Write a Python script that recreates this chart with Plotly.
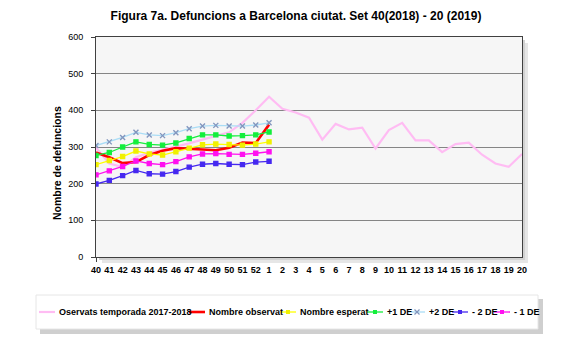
import plotly.graph_objects as go

# ---------------- data ----------------
weeks = ["40", "41", "42", "43", "44", "45", "46", "47", "48", "49", "50", "51", "52",
         "1", "2", "3", "4", "5", "6", "7", "8", "9", "10", "11", "12", "13", "14",
         "15", "16", "17", "18", "19", "20"]
weeks_current = weeks[:14]

temporada_2017_2018 = [298, 255, 245, 272, 284, 292, 300, 310, 320, 330, 340, 366, 400,
                       437, 404, 394, 380, 320, 363, 348, 353, 296, 346, 366, 318, 318,
                       286, 308, 312, 279, 255, 246, 281]
nombre_observat = [285, 272, 256, 259, 278, 290, 297, 296, 293, 291, 298, 312, 311, 361]
nombre_esperat = [252, 263, 274, 289, 281, 278, 287, 297, 306, 308, 307, 305, 308, 314]
plus_1_de = [277, 285, 300, 314, 307, 305, 311, 323, 333, 333, 330, 331, 333, 341]
plus_2_de = [304, 314, 326, 340, 333, 331, 339, 350, 357, 359, 357, 357, 360, 366]
minus_2_de = [199, 209, 222, 236, 227, 226, 233, 245, 253, 255, 253, 252, 259, 261]
minus_1_de = [224, 235, 247, 262, 255, 252, 260, 273, 281, 282, 280, 280, 283, 287]

series_names = ["Oservats temporada 2017-2018", "Nombre observat", "Nombre esperat",
                "+1 DE", "+2 DE", "- 2 DE", "- 1 DE"]
y_ticks = [0, 100, 200, 300, 400, 500, 600]

# ---------------- styles ----------------
FONT = "Arial, Liberation Sans, sans-serif"
styles = [
    dict(color="#FFBCF3", width=2.2, marker=None, mcolor=None, msize=0),
    dict(color="#FF0000", width=2.6, marker=None, mcolor=None, msize=0),
    dict(color="#FFFF00", width=1.3, marker="square", mcolor="#F0F000", msize=4),
    dict(color="#14EE3C", width=1.3, marker="square", mcolor="#14EE3C", msize=4),
    dict(color="#AADDF6", width=1.3, marker="x-thin-open", mcolor="#8296BE", msize=5),
    dict(color="#4628F0", width=1.3, marker="square", mcolor="#4628F0", msize=4),
    dict(color="#FF10F0", width=1.3, marker="square", mcolor="#FF10F0", msize=4),
]
series_values = [temporada_2017_2018, nombre_observat, nombre_esperat,
                 plus_1_de, plus_2_de, minus_2_de, minus_1_de]
series_x = [weeks] + [weeks_current] * 6

fig = go.Figure()
for name, xs, ys, st in zip(series_names, series_x, series_values, styles):
    mode = "lines" if st["marker"] is None else "lines+markers"
    kw = dict(x=xs, y=ys, name=name, mode=mode, showlegend=False,
              line=dict(color=st["color"], width=st["width"]))
    if st["marker"] is not None:
        kw["marker"] = dict(symbol=st["marker"], size=st["msize"], color=st["mcolor"],
                            line=dict(color=st["mcolor"], width=1.4))
    fig.add_trace(go.Scatter(**kw))

# ---------------- layout geometry (pixels) ----------------
W, H = 570, 340
ML, MR, MT, MB = 96, 48, 37, 83
PW, PH = W - ML - MR, H - MT - MB


def px(x):
    return (x - ML) / PW


def py(y):
    return (H - MB - y) / PH


shapes = []
annotations = []

# plot-area shadow (strips to the right and below)
for off, col in [(6, "#E6E6E6"), (3, "#D2D2D2")]:
    shapes.append(dict(type="rect", xref="paper", yref="paper",
                       x0=px(ML + PW + 1), x1=px(ML + PW + off), y0=py(MT + PH + off), y1=py(MT + off),
                       fillcolor=col, line=dict(width=0)))
    shapes.append(dict(type="rect", xref="paper", yref="paper",
                       x0=px(ML + off), x1=px(ML + PW + off), y0=py(MT + PH + off), y1=py(MT + PH + 1),
                       fillcolor=col, line=dict(width=0)))

# legend box with shadow
LX0, LX1, LY0, LY1 = 36, 538, 295, 329
shapes.append(dict(type="rect", xref="paper", yref="paper",
                   x0=px(LX0 + 4), x1=px(LX1 + 5), y0=py(LY1 + 5), y1=py(LY0 + 4),
                   fillcolor="#CFCFCF", line=dict(width=0)))
shapes.append(dict(type="rect", xref="paper", yref="paper",
                   x0=px(LX0), x1=px(LX1), y0=py(LY1), y1=py(LY0),
                   fillcolor="#FFFFFF", line=dict(color="#E6E6E6", width=1)))

text_starts = [57, 207, 298, 385, 427, 470, 512]
LEG_Y = 312
for name, st, ts in zip(series_names, styles, text_starts):
    s0, s1 = ts - 18, ts - 2
    shapes.append(dict(type="line", xref="paper", yref="paper",
                       x0=px(s0), x1=px(s1), y0=py(LEG_Y), y1=py(LEG_Y),
                       line=dict(color=st["color"], width=st["width"])))
    cx = (s0 + s1) / 2
    if st["marker"] == "square":
        h = 2
        shapes.append(dict(type="rect", xref="paper", yref="paper",
                           x0=px(cx - h), x1=px(cx + h), y0=py(LEG_Y + h), y1=py(LEG_Y - h),
                           fillcolor=st["mcolor"], line=dict(width=0)))
    elif st["marker"] == "x-thin-open":
        h = 2.5
        for dx0, dy0, dx1, dy1 in [(-h, -h, h, h), (-h, h, h, -h)]:
            shapes.append(dict(type="line", xref="paper", yref="paper",
                               x0=px(cx + dx0), x1=px(cx + dx1),
                               y0=py(LEG_Y + dy0), y1=py(LEG_Y + dy1),
                               line=dict(color=st["mcolor"], width=1.2)))
    annotations.append(dict(text="<b>" + name + "</b>", xref="paper", yref="paper",
                            x=px(ts), y=py(LEG_Y), xanchor="left", yanchor="middle",
                            showarrow=False, font=dict(family=FONT, size=9, color="#000")))

# y-axis title
annotations.append(dict(text="<b>Nombre de defuncions</b>", xref="paper", yref="paper",
                        x=px(57), y=py(163), xanchor="center", yanchor="middle",
                        textangle=-90, showarrow=False,
                        font=dict(family=FONT, size=10.5, color="#000")))

fig.update_layout(
    width=W, height=H,
    margin=dict(l=ML, r=MR, t=MT, b=MB, pad=0),
    paper_bgcolor="#FFFFFF",
    plot_bgcolor="#F6F6F6",
    showlegend=False,
    title=dict(text="<b>Figura 7a. Defuncions a Barcelona ciutat. Set 40(2018) - 20 (2019)</b>",
               x=296 / W, xref="container", xanchor="center",
               y=1 - 16 / H, yref="container", yanchor="middle",
               font=dict(family=FONT, size=12, color="#000")),
    shapes=shapes,
    annotations=annotations,
    xaxis=dict(type="category", categoryorder="array", categoryarray=weeks,
               range=[0, len(weeks) - 1], showgrid=False, zeroline=False,
               showline=True, linecolor="#404040", linewidth=1, mirror=True,
               ticks="outside", ticklen=4, tickcolor="#404040",
               tickfont=dict(family=FONT, size=9, color="#000"),
               tickprefix="<b>", ticksuffix="</b>"),
    yaxis=dict(range=[0, 600], tickvals=y_ticks, showgrid=True, gridcolor="#858585",
               gridwidth=1.2, zeroline=False,
               showline=True, linecolor="#404040", linewidth=1, mirror=True,
               ticks="outside", ticklen=4, tickcolor="#404040", ticklabelstandoff=6,
               tickfont=dict(family=FONT, size=9, color="#000"),
               tickprefix="<b>", ticksuffix="</b>"),
)

fig.write_html("out.html")
